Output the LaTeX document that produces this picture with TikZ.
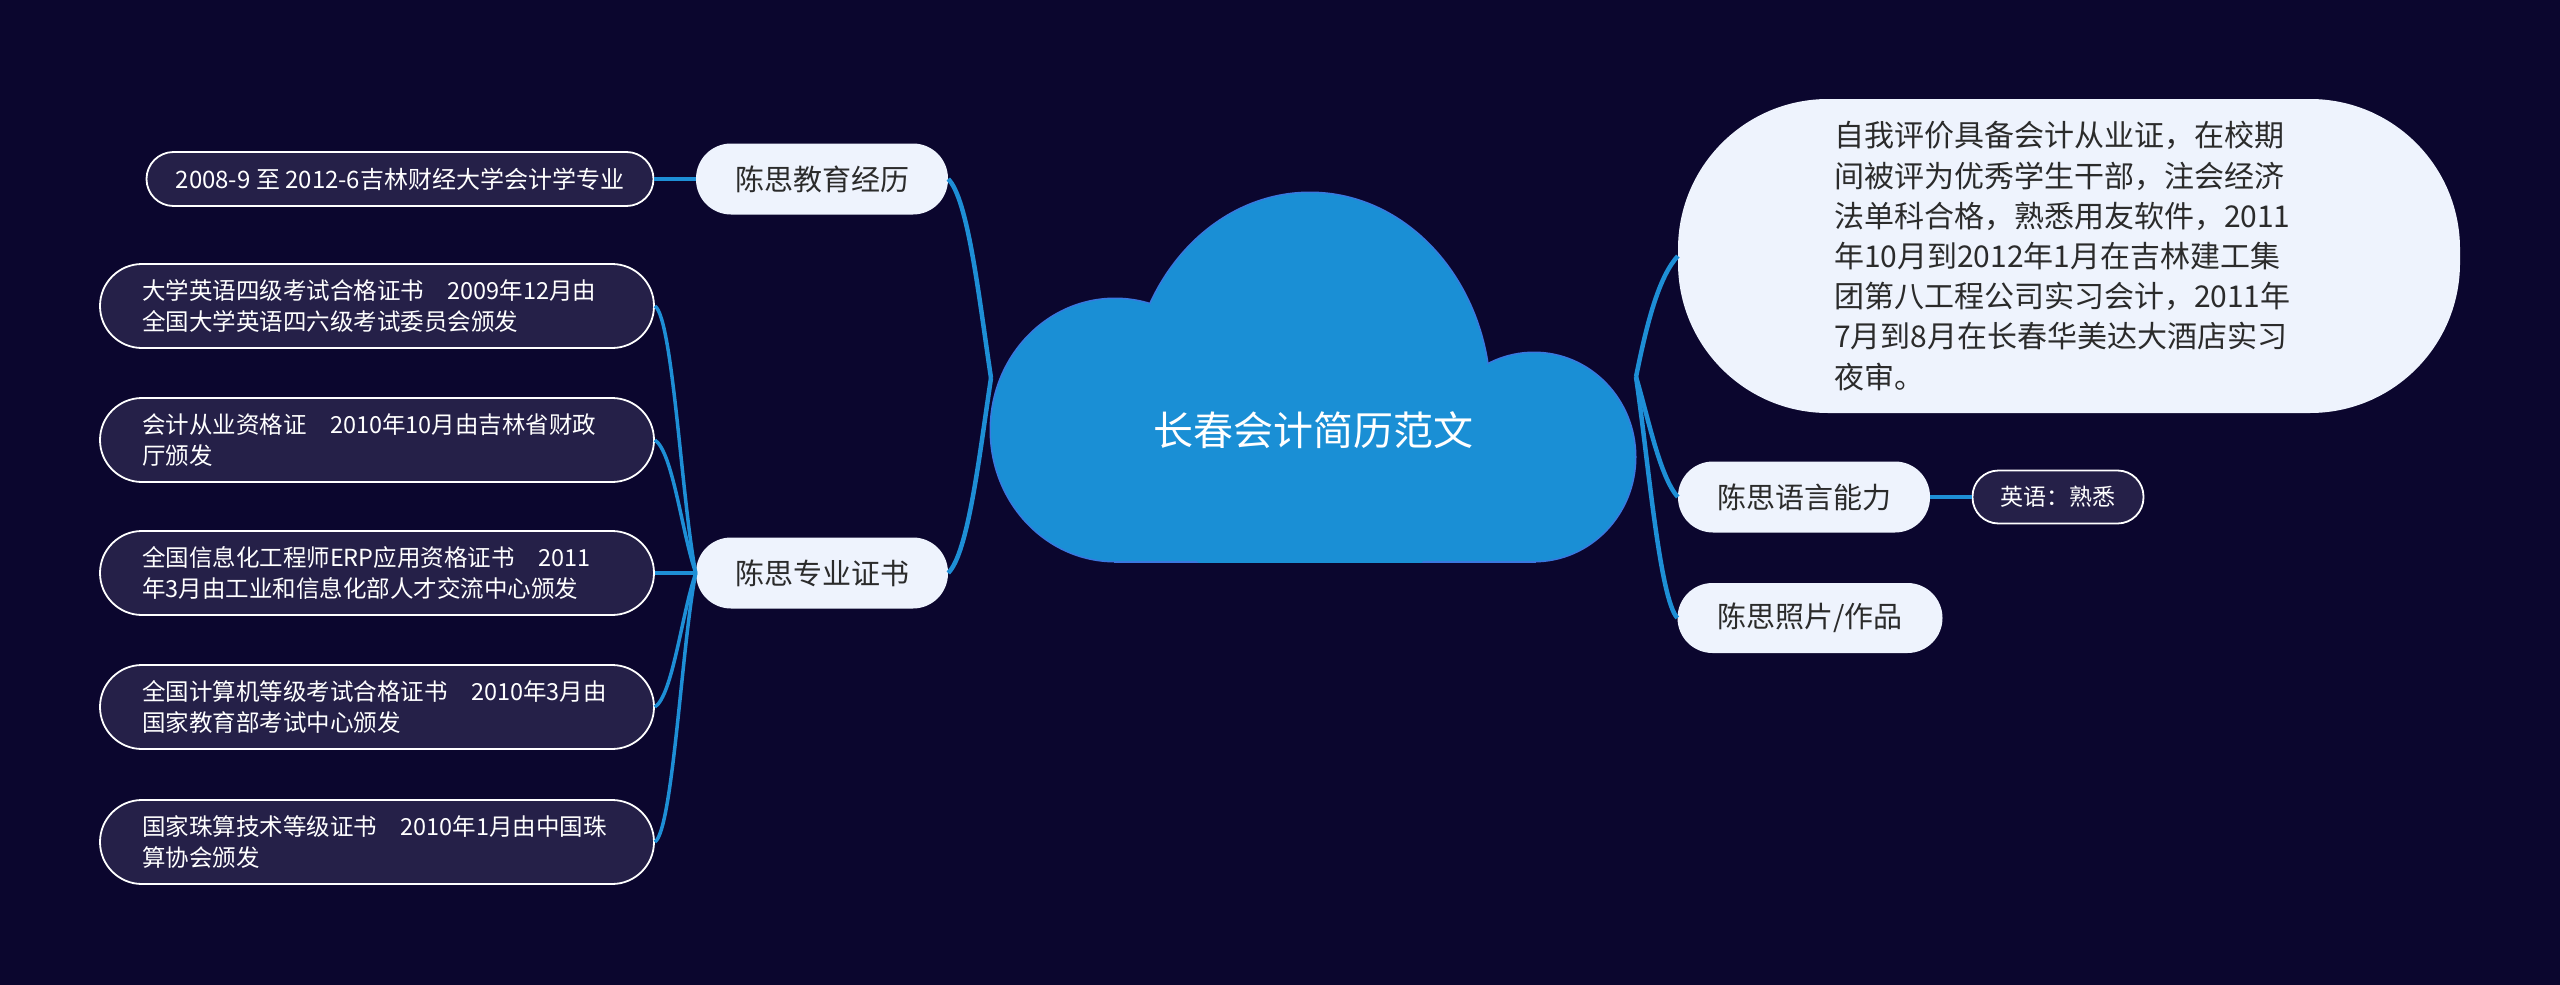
\documentclass[tikz,border=0pt]{standalone}
\usepackage{fontspec}
\setmainfont{Noto Sans CJK SC}
\definecolor{bgc}{HTML}{0B062E}
\definecolor{cloudc}{HTML}{1A8FD5}
\definecolor{cloudedge}{HTML}{3A78E0}
\definecolor{linec}{HTML}{1E8FD6}
\definecolor{mainfill}{HTML}{EEF3FD}
\definecolor{maintext}{HTML}{2B2B2B}
\definecolor{leaffill}{HTML}{252048}
\newcommand\gapx{\nobreak\hspace{1em}\nobreak}
\begin{document}
\begin{tikzpicture}[x=1pt,y=-1pt,
  mainbox/.style={fill=mainfill, text=maintext, rounded corners=35pt, minimum height=71pt, minimum width=252pt, inner sep=0pt, font=\fontsize{29}{36}\selectfont},
  leafbox/.style={fill=leaffill, draw=white, line width=1.8pt, text=white, rounded corners=42pt, minimum height=84pt, text width=470pt, inner xsep=42pt, inner ysep=0pt, align=left, font=\fontsize{23.5}{31}\selectfont},
  smallleaf/.style={fill=leaffill, draw=white, line width=1.8pt, text=white, rounded corners=26pt, minimum height=53pt, inner sep=0pt, font=\fontsize{23}{31}\selectfont},
  mainconn/.style={draw=linec, line width=4.5pt},
  leafconn/.style={draw=linec, line width=3.5pt}]
\fill[bgc] (0,0) rectangle (2560,985);
\useasboundingbox (0,0) rectangle (2560,985);
% cloud
\begin{scope}
  \clip (900,150) rectangle (1700,562.5);
  \begin{scope}[draw=cloudedge, line width=3pt]
    \draw (1310,400) ellipse [x radius=180, y radius=207];
    \draw (1115,430) ellipse [x radius=124, y radius=131];
    \draw (1534,457) ellipse [x radius=101, y radius=104];
    \draw (1115,400) rectangle (1534,561);
  \end{scope}
  \begin{scope}[fill=cloudc]
    \fill (1310,400) ellipse [x radius=180, y radius=207];
    \fill (1115,430) ellipse [x radius=124, y radius=131];
    \fill (1534,457) ellipse [x radius=101, y radius=104];
    \fill (1115,400) rectangle (1534,561);
  \end{scope}
\end{scope}
\node[text=white, font=\fontsize{40}{48}\selectfont] (root) at (1313,430) {长春会计简历范文};
\coordinate (cl) at (991,378);
\coordinate (cr) at (1636,377);
% left
\node[mainbox] (e1) at (822,179) {陈思教育经历};
\node[smallleaf, minimum width=507pt, rounded corners=27pt, minimum height=54pt, font=\fontsize{24}{31}\selectfont] (e0) at (400,179) {2008-9 至 2012-6吉林财经大学会计学专业};
\node[mainbox] (c2) at (822,573) {陈思专业证书};
\node[leafbox] (l1) at (377,306) {大学英语四级考试合格证书\gapx2009年12月由\\全国大学英语四六级考试委员会颁发};
\node[leafbox] (l2) at (377,440) {会计从业资格证\gapx2010年10月由吉林省财政\\厅颁发};
\node[leafbox] (l3) at (377,573) {全国信息化工程师ERP应用资格证书\gapx2011\\年3月由工业和信息化部人才交流中心颁发};
\node[leafbox] (l4) at (377,707) {全国计算机等级考试合格证书\gapx2010年3月由\\国家教育部考试中心颁发};
\node[leafbox] (l5) at (377,842) {国家珠算技术等级证书\gapx2010年1月由中国珠\\算协会颁发};
% right
\node[mainbox, minimum width=782pt, minimum height=314pt, rounded corners=150pt, text width=470pt, align=left, font=\fontsize{30}{40.2}\selectfont] (r1) at (2069,256) {自我评价具备会计从业证，在校期\\间被评为优秀学生干部，注会经济\\法单科合格，熟悉用友软件，2011\\年10月到2012年1月在吉林建工集\\团第八工程公司实习会计，2011年\\7月到8月在长春华美达大酒店实习\\夜审。};
\node[mainbox] (r2) at (1804,497) {陈思语言能力};
\node[smallleaf, minimum width=171pt] (r2a) at (2058,497) {英语：熟悉};
\node[mainbox, minimum width=265pt, minimum height=70pt] (r3) at (1810,618) {陈思照片/作品};
% connectors
\draw[mainconn] (e1.east) .. controls +(20,20) and +(-12,-80) .. (cl);
\draw[mainconn] (c2.east) .. controls +(20,-20) and +(-12,80) .. (cl);
\draw[leafconn] (e0.east) -- (e1.west);
\draw[leafconn] (l1.east) .. controls +(18,12) and +(-14,-70) .. (c2.west);
\draw[leafconn] (l2.east) .. controls +(18,12) and +(-14,-40) .. (c2.west);
\draw[leafconn] (l3.east) -- (c2.west);
\draw[leafconn] (l4.east) .. controls +(18,-12) and +(-14,40) .. (c2.west);
\draw[leafconn] (l5.east) .. controls +(18,-12) and +(-14,70) .. (c2.west);
\draw[mainconn] (cr) .. controls +(12,-60) and +(-18,20) .. (r1.west);
\draw[mainconn] (cr) .. controls +(12,40) and +(-18,-20) .. (r2.west);
\draw[mainconn] (cr) .. controls +(12,80) and +(-18,-20) .. (r3.west);
\draw[leafconn] (r2.east) -- (r2a.west);
\end{tikzpicture}
\end{document}
